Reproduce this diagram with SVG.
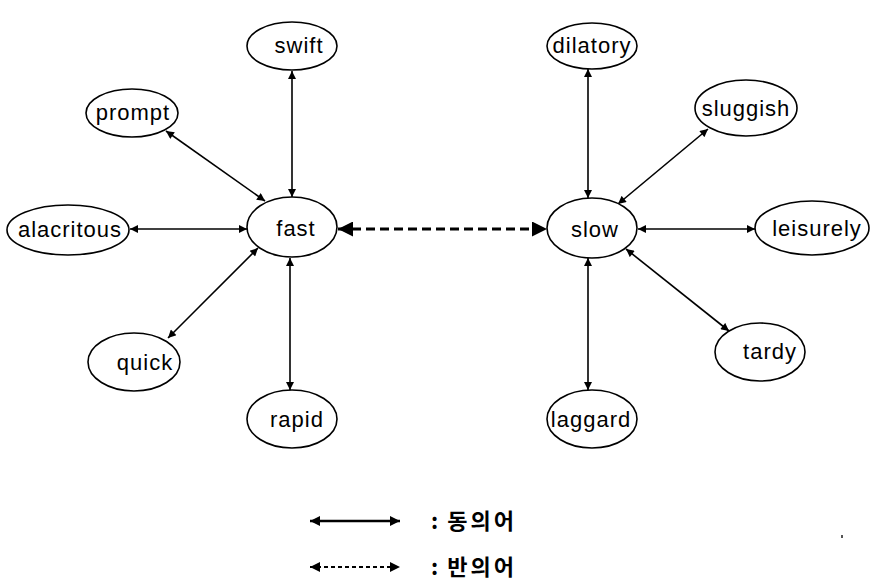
<svg xmlns="http://www.w3.org/2000/svg" width="871" height="582" viewBox="0 0 871 582">
<style>
.node ellipse{fill:#fff;stroke:#000;stroke-width:1.6}
.node text{font-family:"Liberation Sans",Arial,sans-serif;font-size:22px;letter-spacing:1px;text-anchor:middle;fill:#000}
.syn{stroke:#000;stroke-width:1.6;fill:none;marker-start:url(#a);marker-end:url(#a)}
.ant{stroke:#000;stroke-width:3.2;fill:none;stroke-dasharray:9 5;marker-start:url(#b);marker-end:url(#b)}
.leg{font-family:"Noto Sans CJK KR","Noto Sans",sans-serif;font-size:22px;font-weight:bold;letter-spacing:3px;fill:#000}
</style>
<defs>
<marker id="a" viewBox="0 0 10 10" refX="10" refY="5" markerUnits="userSpaceOnUse" markerWidth="9" markerHeight="8" orient="auto-start-reverse"><path d="M0,0 L10,5 L0,10 z" fill="#000"/></marker>
<marker id="b" viewBox="0 0 10 10" refX="10" refY="5" markerUnits="userSpaceOnUse" markerWidth="15" markerHeight="15" orient="auto-start-reverse"><path d="M0,0 L10,5 L0,10 z" fill="#000"/></marker>
<marker id="c" viewBox="0 0 10 10" refX="10" refY="5" markerUnits="userSpaceOnUse" markerWidth="11" markerHeight="10" orient="auto-start-reverse"><path d="M0,0 L10,5 L0,10 z" fill="#000"/></marker>
</defs>
<g id="connectors">
<line class="syn" x1="292" y1="71" x2="292" y2="197"/>
<line class="syn" x1="166" y1="131" x2="265" y2="201"/>
<line class="syn" x1="130" y1="229" x2="247" y2="229"/>
<line class="syn" x1="168" y1="338" x2="258" y2="248"/>
<line class="syn" x1="290" y1="258" x2="290" y2="390"/>
<line class="ant" x1="338" y1="229" x2="547" y2="229"/>
<line class="syn" x1="588" y1="69" x2="588" y2="198"/>
<line class="syn" x1="708" y1="129" x2="618" y2="204"/>
<line class="syn" x1="638" y1="229" x2="755" y2="229"/>
<line class="syn" x1="626" y1="249" x2="729" y2="331"/>
<line class="syn" x1="588" y1="258" x2="588" y2="390"/>
</g>
<g id="swift" class="node"><ellipse cx="292" cy="46" rx="45" ry="24"/><text x="299" y="53">swift</text></g>
<g id="prompt" class="node"><ellipse cx="132" cy="113" rx="46" ry="24"/><text x="133" y="120">prompt</text></g>
<g id="alacritous" class="node"><ellipse cx="68" cy="230" rx="61" ry="25"/><text x="70" y="237">alacritous</text></g>
<g id="fast" class="node"><ellipse cx="292" cy="227" rx="45" ry="30"/><text x="296" y="236">fast</text></g>
<g id="quick" class="node"><ellipse cx="134" cy="362" rx="46" ry="29"/><text x="145" y="370">quick</text></g>
<g id="rapid" class="node"><ellipse cx="292" cy="419" rx="45" ry="29"/><text x="297" y="427">rapid</text></g>
<g id="dilatory" class="node"><ellipse cx="592" cy="46" rx="45" ry="23"/><text x="592" y="53">dilatory</text></g>
<g id="sluggish" class="node"><ellipse cx="746" cy="108" rx="51" ry="28"/><text x="746" y="116">sluggish</text></g>
<g id="slow" class="node"><ellipse cx="592" cy="228" rx="45" ry="30"/><text x="595" y="237">slow</text></g>
<g id="leisurely" class="node"><ellipse cx="812" cy="228" rx="57" ry="27"/><text x="817" y="236">leisurely</text></g>
<g id="tardy" class="node"><ellipse cx="760" cy="352" rx="45" ry="29"/><text x="770" y="359">tardy</text></g>
<g id="laggard" class="node"><ellipse cx="592" cy="419" rx="45" ry="29"/><text x="591" y="427">laggard</text></g>
<g id="legend">
<line x1="310" y1="521" x2="400" y2="521" stroke="#000" stroke-width="2.4" marker-start="url(#c)" marker-end="url(#c)"/>
<text class="leg" x="431" y="529">:<tspan dx="6">동의어</tspan></text>
<line x1="310" y1="567" x2="400" y2="567" stroke="#000" stroke-width="2" stroke-dasharray="4 3" marker-start="url(#c)" marker-end="url(#c)"/>
<text class="leg" x="431" y="575">:<tspan dx="6">반의어</tspan></text>
</g>
<rect x="841" y="535" width="2" height="3" fill="#555"/>
</svg>
